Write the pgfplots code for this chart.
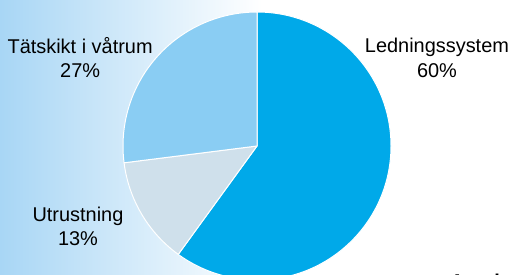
\documentclass[border=0pt]{standalone}
\usepackage{pgfplots}
\pgfplotsset{compat=1.18}
\usepackage{pgfplotstable}
\usepackage{fontspec}
\setmainfont{Liberation Sans}
\definecolor{cLed}{HTML}{00A9E9}
\definecolor{cUtr}{HTML}{CFE0EB}
\definecolor{cTat}{HTML}{8ACDF3}
\definecolor{cBg}{HTML}{A8D6F5}
\pgfplotstableread[col sep=comma]{
name,value,color
Ledningssystem,60,cLed
Utrustning,13,cUtr
Tatskikt,27,cTat
}\piedata
\begin{document}
\begin{tikzpicture}
\useasboundingbox (0,0) rectangle (512bp,275bp);
\shade[left color=cBg, right color=white] (0,0) rectangle (262bp,275bp);
\begin{axis}[at={(257bp,129bp)}, anchor=origin, x=134bp, y=134bp,
  xmin=-1.9, xmax=1.9, ymin=-1.1, ymax=1.1, hide axis, clip=false]
\pgfmathsetmacro{\cum}{0}
\pgfplotsinvokeforeach{0,1,2}{
  \pgfplotstablegetelem{#1}{value}\of\piedata
  \let\val\pgfplotsretval
  \pgfplotstablegetelem{#1}{color}\of\piedata
  \let\col\pgfplotsretval
  \pgfmathsetmacro{\sa}{90-3.6*\cum}
  \pgfmathsetmacro{\ea}{90-3.6*(\cum+\val)}
  \edef\temp{\noexpand\fill[\col, draw=white, line width=1pt, line join=round]
    (axis cs:0,0) -- (axis cs:{cos(\sa)},{sin(\sa)})
    arc[start angle=\sa, end angle=\ea, radius=134bp] -- cycle;}
  \temp
  \pgfmathsetmacro{\cum}{\cum+\val}
  \global\let\cum\cum
}
\node[align=center, font=\fontsize{20}{25}\selectfont] at (axis cs:1.343,0.66) {Ledningssystem\\60\%};
\node[align=center, font=\fontsize{20}{25}\selectfont] at (axis cs:-1.32,0.66) {Tätskikt i våtrum\\27\%};
\node[align=center, font=\fontsize{20}{25}\selectfont] at (axis cs:-1.336,-0.60) {Utrustning\\13\%};
\end{axis}
\node[anchor=base west, inner sep=0pt, font=\fontsize{20}{24}\selectfont\bfseries] at (450bp,-13bp) {Antal};
\end{tikzpicture}
\end{document}
